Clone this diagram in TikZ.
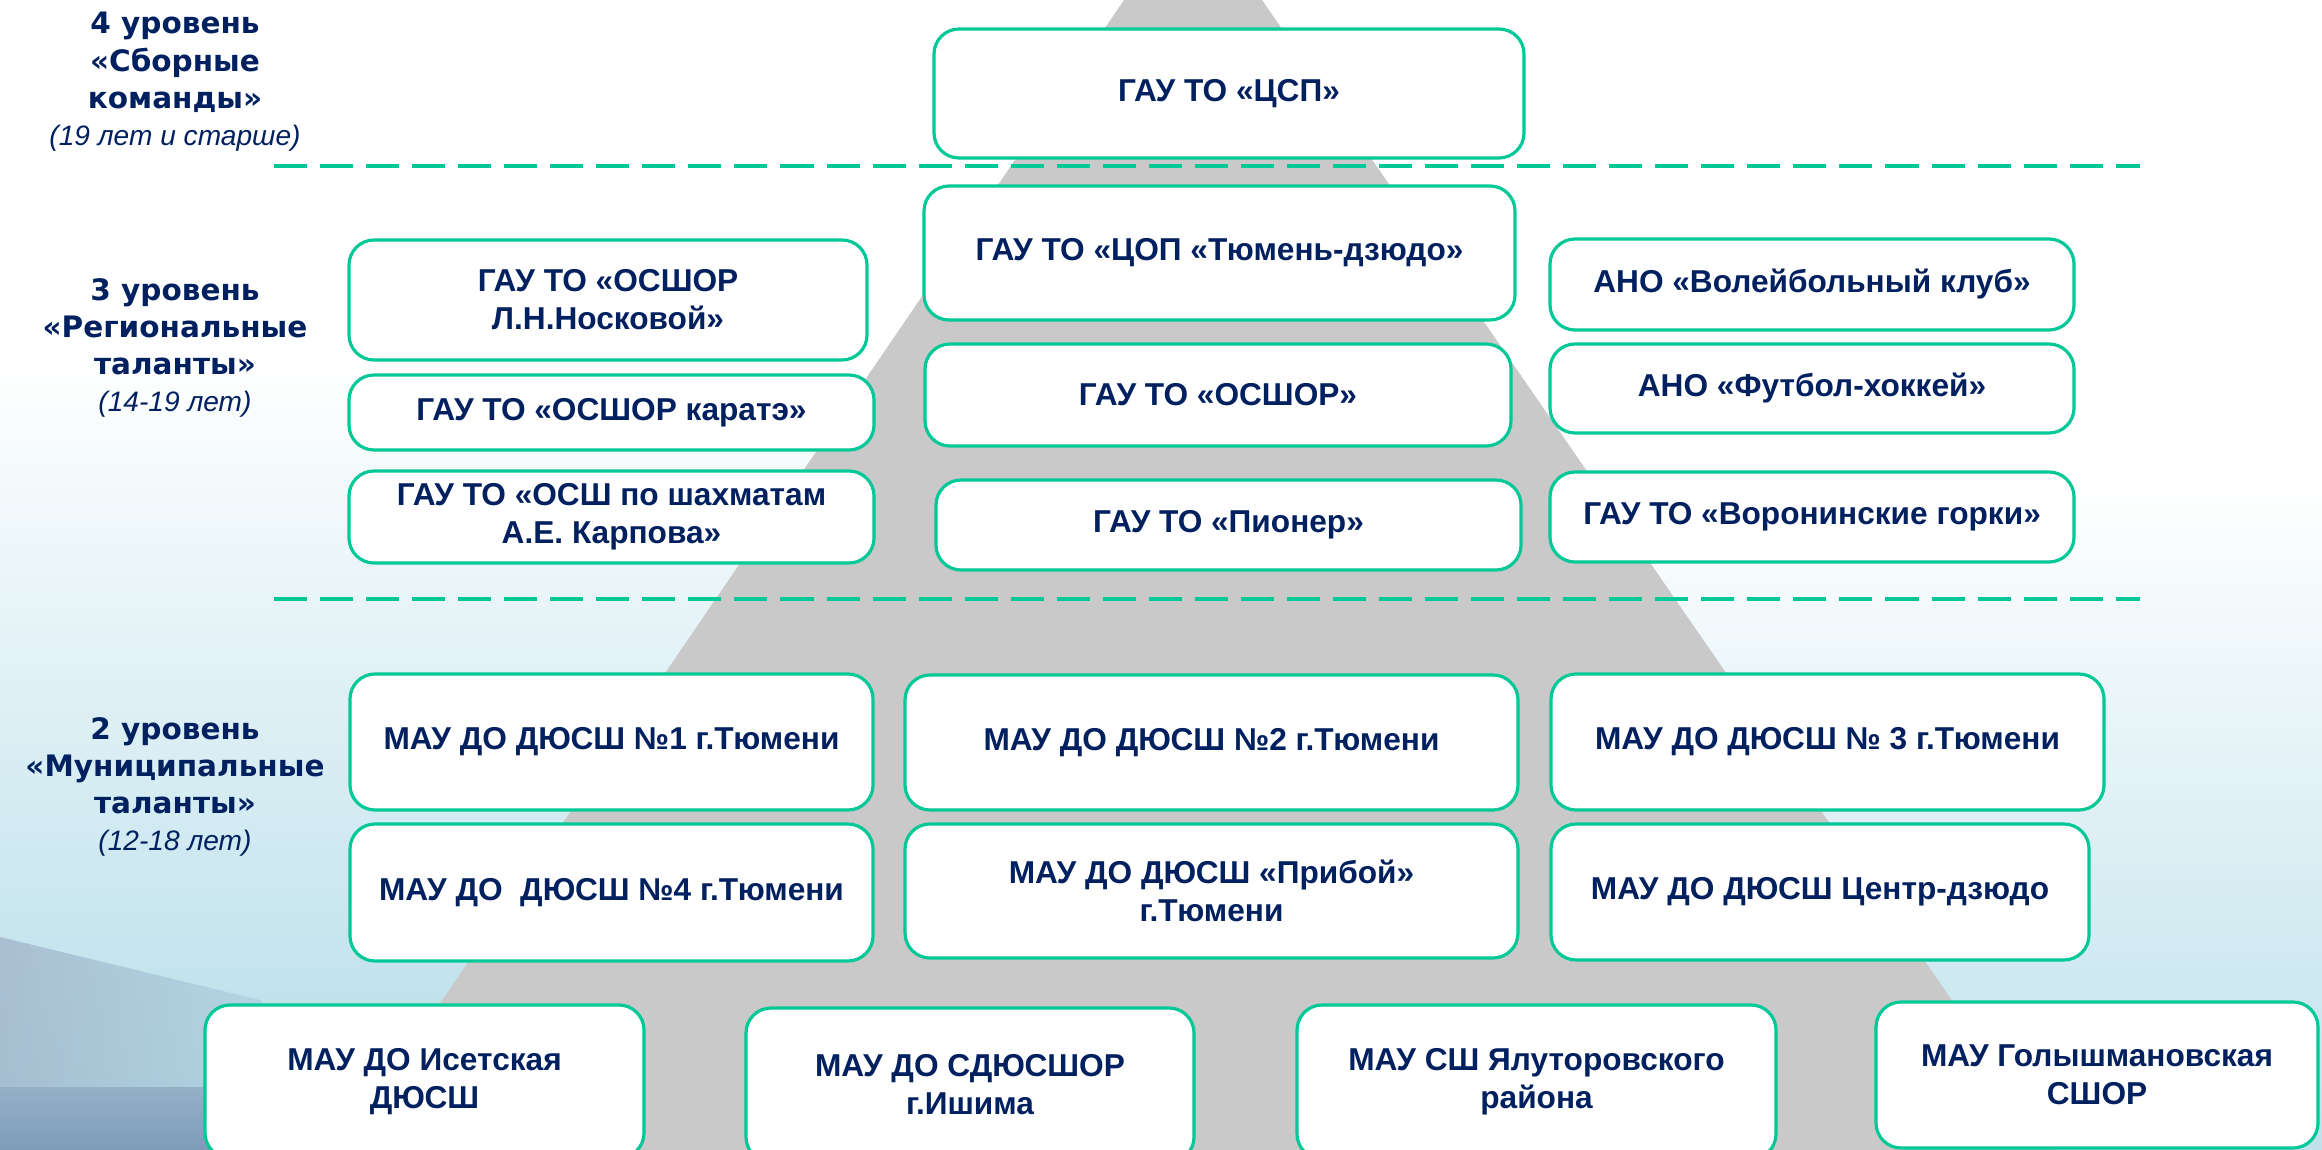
\documentclass[tikz,border=0pt]{standalone}
\usepackage{fontspec}
\setmainfont{Liberation Sans}
\newfontfamily\levelfont{DejaVu Sans}
\usepackage{tikz}
\usetikzlibrary{positioning}
\usepackage{xcolor}
\definecolor{boxgreen}{HTML}{00C896}
\definecolor{navytext}{HTML}{002060}
\definecolor{pyrgrey}{HTML}{C9C9C9}
\definecolor{skyblue}{HTML}{B3DCE8}
\definecolor{streakgrey}{HTML}{9FB3C8}
\definecolor{steelband}{HTML}{7C9CBA}

\begin{document}
\begin{tikzpicture}[
    orgbox/.style={draw=boxgreen, line width=0.9pt, fill=white, rounded corners=0.25cm,
      align=center, text=navytext, inner sep=2pt,
      font=\fontsize{9}{10.8}\selectfont\bfseries},
    levellabel/.style={align=center, text=navytext,
      font=\levelfont\fontsize{8.4}{10.6}\selectfont\bfseries},
    divider/.style={draw=boxgreen, line width=1.15pt, dash pattern=on 9.4pt off 3.7pt}
  ]
        \clip (0,0) rectangle (23.22,-11.5);

        % Background
        \fill[white] (0,0) rectangle (23.22,-11.5);
        \shade[top color=white, bottom color=skyblue] (0,-3.6) rectangle (9,-11.5);
        \shade[top color=white, bottom color=skyblue!85] (16.1,-4.8) rectangle (23.22,-11.5);
        \shade[left color=streakgrey, right color=skyblue, opacity=0.75] (0,-9.37) -- (2.6,-10.0) -- (3.6,-10.87) -- (0,-10.87) -- cycle;
        \shade[top color=steelband!80, bottom color=steelband] (0,-10.87) rectangle (2.3,-11.5);

        % Pyramid
        \fill[pyrgrey] (11.24,0) -- (12.62,0) -- (20.55,-11.5) -- (3.40,-11.5) -- cycle;

        % Level dividers
        \coordinate (div1a) at (2.74,-1.66);
        \coordinate (div1b) at (21.40,-1.66);
        \coordinate (div2a) at (2.74,-5.99);
        \coordinate (div2b) at (21.40,-5.99);
        \draw[divider] (div1a) -- (div1b);
        \draw[divider] (div2a) -- (div2b);

        % Level 4
        \node[orgbox, minimum width=5.90cm, minimum height=1.29cm] (csp) at (12.29,-0.935) {ГАУ ТО «ЦСП»};

        % Level 3
        \node[orgbox, minimum width=5.18cm, minimum height=1.20cm] (noskova) at (6.08,-3.00) {ГАУ ТО «ОСШОР\\Л.Н.Носковой»};
        \node[orgbox, minimum width=5.25cm, minimum height=0.75cm] (karate) at (6.115,-4.125) {ГАУ ТО «ОСШОР каратэ»};
        \node[orgbox, minimum width=5.25cm, minimum height=0.92cm] (chess) at (6.115,-5.17) {ГАУ ТО «ОСШ по шахматам\\А.Е. Карпова»};

        \node[orgbox, minimum width=5.91cm, minimum height=1.34cm] (judo) at (12.195,-2.53) {ГАУ ТО «ЦОП «Тюмень-дзюдо»};
        \node[orgbox, minimum width=5.86cm, minimum height=1.02cm] (osshor) at (12.18,-3.95) {ГАУ ТО «ОСШОР»};
        \node[orgbox, minimum width=5.85cm, minimum height=0.90cm] (pioner) at (12.285,-5.25) {ГАУ ТО «Пионер»};

        \node[orgbox, minimum width=5.24cm, minimum height=0.91cm] (volley) at (18.12,-2.845) {АНО «Волейбольный клуб»};
        \node[orgbox, minimum width=5.24cm, minimum height=0.89cm] (hockey) at (18.12,-3.885) {АНО «Футбол-хоккей»};
        \node[orgbox, minimum width=5.24cm, minimum height=0.90cm] (gorki) at (18.12,-5.17) {ГАУ ТО «Воронинские горки»};

        % Level 2
        \node[orgbox, minimum width=5.23cm, minimum height=1.36cm] (dussh1) at (6.115,-7.42) {МАУ ДО ДЮСШ №1 г.Тюмени};
        \node[orgbox, minimum width=5.23cm, minimum height=1.37cm] (dussh4) at (6.115,-8.925) {МАУ ДО\ \ ДЮСШ №4 г.Тюмени};
        \node[orgbox, minimum width=6.13cm, minimum height=1.35cm] (dussh2) at (12.115,-7.425) {МАУ ДО ДЮСШ №2 г.Тюмени};
        \node[orgbox, minimum width=6.13cm, minimum height=1.34cm] (priboy) at (12.115,-8.91) {МАУ ДО ДЮСШ «Прибой»\\г.Тюмени};
        \node[orgbox, minimum width=5.53cm, minimum height=1.36cm] (dussh3) at (18.275,-7.42) {МАУ ДО ДЮСШ № 3 г.Тюмени};
        \node[orgbox, minimum width=5.38cm, minimum height=1.36cm] (centr) at (18.20,-8.92) {МАУ ДО ДЮСШ Центр-дзюдо};

        % Bottom row
        \node[orgbox, minimum width=4.39cm, minimum height=1.53cm] (iset) at (4.245,-10.815) {МАУ ДО Исетская\\ДЮСШ};
        \node[orgbox, minimum width=4.48cm, minimum height=1.54cm] (ishim) at (9.70,-10.85) {МАУ ДО СДЮСШОР\\г.Ишима};
        \node[orgbox, minimum width=4.79cm, minimum height=1.54cm] (yalut) at (15.365,-10.82) {МАУ СШ Ялуторовского\\района};
        \node[orgbox, minimum width=4.42cm, minimum height=1.46cm] (golysh) at (20.97,-10.75) {МАУ Голышмановская\\СШОР};

        % Level labels
        \node[levellabel] (lvl4) at (1.75,-0.82) {4 уровень\\«Сборные\\команды»\\{\normalfont\fontsize{8}{10.6}\selectfont\itshape (19 лет и старше)}};
        \node[levellabel] (lvl3) at (1.75,-3.48) {3 уровень\\«Региональные\\таланты»\\{\normalfont\fontsize{8}{10.6}\selectfont\itshape (14-19 лет)}};
        \node[levellabel] (lvl2) at (1.75,-7.87) {2 уровень\\«Муниципальные\\таланты»\\{\normalfont\fontsize{8}{10.6}\selectfont\itshape (12-18 лет)}};
    \end{tikzpicture}
\end{document}
